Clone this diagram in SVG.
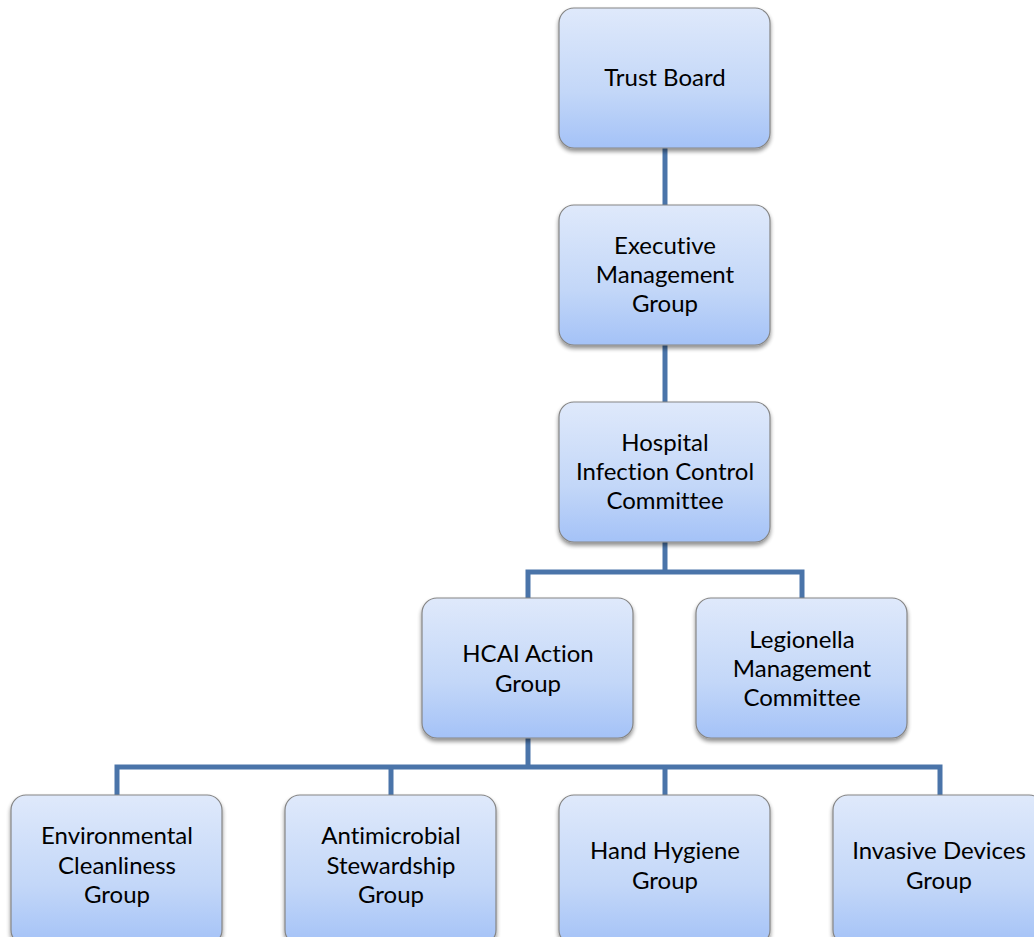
<svg xmlns="http://www.w3.org/2000/svg" width="1034" height="937" viewBox="0 0 1034 937">
<defs>
<linearGradient id="g" x1="0" y1="0" x2="0" y2="1">
<stop offset="0" stop-color="#dfe9fb"/>
<stop offset="0.6" stop-color="#c3d7f8"/>
<stop offset="1" stop-color="#a4c2f7"/>
</linearGradient>
<filter id="sh" x="-10%" y="-10%" width="120%" height="125%">
<feGaussianBlur in="SourceAlpha" stdDeviation="2"/>
<feOffset dx="0" dy="3" result="b"/>
<feComponentTransfer><feFuncA type="linear" slope="0.45"/></feComponentTransfer>
<feMerge><feMergeNode/><feMergeNode in="SourceGraphic"/></feMerge>
</filter>
</defs>
<style>
.box{fill:url(#g);stroke:#858585;stroke-width:1.2;filter:url(#sh)}
.t{font-family:Lato,"Open Sans","Liberation Sans",sans-serif;font-size:24px;fill:#000;text-anchor:middle;font-variant-ligatures:none;font-feature-settings:"liga" 0,"dlig" 0}
.c{fill:none;stroke:#4a74a9;stroke-width:5;stroke-linejoin:miter}
</style>
<rect width="1034" height="937" fill="#fff"/>
<g id="connectors">
<path class="c" d="M665 148V205"/>
<path class="c" d="M665 345V402"/>
<path class="c" d="M665 542V572H528V598M665 572H802V598"/>
<path class="c" d="M528 738V767H117V795M528 767H940V795M391 767V795M665 767V795"/>
</g>
<g id="trust-board">
<rect class="box" x="559" y="8" width="211" height="140" rx="15"/>
<text class="t" x="665" y="86">Trust Board</text>
</g>
<g id="executive-management-group">
<rect class="box" x="559" y="205" width="211" height="140" rx="15"/>
<text class="t" x="665" y="254">Executive</text>
<text class="t" x="665" y="283">Management</text>
<text class="t" x="665" y="312">Group</text>
</g>
<g id="hospital-infection-control-committee">
<rect class="box" x="559" y="402" width="211" height="140" rx="15"/>
<text class="t" x="665" y="451">Hospital</text>
<text class="t" x="665" y="480">Infection Control</text>
<text class="t" x="665" y="509">Committee</text>
</g>
<g id="hcai-action-group">
<rect class="box" x="422" y="598" width="211" height="140" rx="15"/>
<text class="t" x="528" y="662">HCAI Action</text>
<text class="t" x="528" y="692">Group</text>
</g>
<g id="legionella-management-committee">
<rect class="box" x="696" y="598" width="211" height="140" rx="15"/>
<text class="t" x="802" y="648">Legionella</text>
<text class="t" x="802" y="677">Management</text>
<text class="t" x="802" y="706">Committee</text>
</g>
<g id="environmental-cleanliness-group">
<rect class="box" x="11" y="795" width="211" height="150" rx="15"/>
<text class="t" x="117" y="844">Environmental</text>
<text class="t" x="117" y="874">Cleanliness</text>
<text class="t" x="117" y="903">Group</text>
</g>
<g id="antimicrobial-stewardship-group">
<rect class="box" x="285" y="795" width="211" height="150" rx="15"/>
<text class="t" x="391" y="844">Antimicrobial</text>
<text class="t" x="391" y="874">Stewardship</text>
<text class="t" x="391" y="903">Group</text>
</g>
<g id="hand-hygiene-group">
<rect class="box" x="559" y="795" width="211" height="150" rx="15"/>
<text class="t" x="665" y="859">Hand Hygiene</text>
<text class="t" x="665" y="889">Group</text>
</g>
<g id="invasive-devices-group">
<rect class="box" x="833" y="795" width="211" height="150" rx="15"/>
<text class="t" x="939" y="859">Invasive Devices</text>
<text class="t" x="939" y="889">Group</text>
</g>
</svg>
